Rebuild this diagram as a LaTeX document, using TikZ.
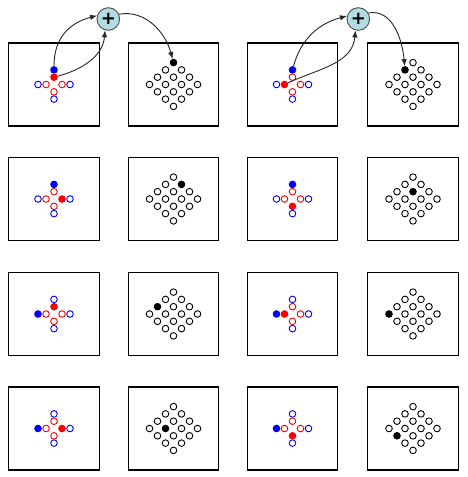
\documentclass[tikz,border=0pt]{standalone}
\usepackage{fontspec}
\newfontfamily\plusfont{DejaVu Sans}
\usetikzlibrary{arrows.meta}
\definecolor{plusblue}{RGB}{176,220,226}
\begin{document}
\begin{tikzpicture}[x=1pt,y=-1pt,
  panel/.style={draw, line width=1.05pt, minimum width=90.5pt, minimum height=83pt, inner sep=0pt},
  dot/.style={circle, line width=0.9pt, minimum size=6.6pt, inner sep=0pt},
  bdot/.style={dot, draw=blue},
  rdot/.style={dot, draw=red},
  kdot/.style={dot, draw=black},
  xbt/.style={}, xbb/.style={}, xbl/.style={}, xbr/.style={},
  xrt/.style={}, xrb/.style={}, xrl/.style={}, xrr/.style={},
  xk00/.style={}, xk01/.style={}, xk02/.style={}, xk03/.style={},
  xk10/.style={}, xk11/.style={}, xk12/.style={}, xk13/.style={},
  xk20/.style={}, xk21/.style={}, xk22/.style={}, xk23/.style={},
  xk30/.style={}, xk31/.style={}, xk32/.style={}, xk33/.style={},
  plusc/.style={circle, draw=black!70, fill=plusblue, line width=0.9pt, minimum size=22.6pt, inner sep=0pt, font=\plusfont\bfseries\fontsize{18}{18}\selectfont},
  arr/.style={draw=black!85, line width=0.9pt, -{Latex[length=7pt,width=5.5pt]}}
]
\useasboundingbox (0,0) rectangle (468,477);
\foreach \n/\xa/\xb/\yc/\bs/\rs/\ks in {
  p1/54/173.5/84.5/t/t/00, p2/292.5/413/84.5/t/l/01,
  p3/54/173.5/199/t/r/10, p4/292.5/413/199/t/b/11,
  p5/54/173.5/314/l/t/02, p6/292.5/413/314/l/l/03,
  p7/54/173.5/428.5/l/r/12, p8/292.5/413/428.5/l/b/13}
{
 \begin{scope}[xb\bs/.style={fill=blue}, xr\rs/.style={fill=red}, xk\ks/.style={fill=black}]
  \node[panel] (\n-A) at (\xa,\yc) {};
  \node[panel] (\n-B) at (\xb,\yc) {};
  \foreach \p/\dx/\dy in {t/0/-1, b/0/1, l/-1/0, r/1/0} {
    \node[bdot, xb\p] (\n-b\p) at ({\xa+16*\dx},{\yc+14.6*\dy}) {};
    \node[rdot, xr\p] (\n-r\p) at ({\xa+8*\dx},{\yc+7.3*\dy}) {};
  }
  \foreach \i in {0,...,3} {
    \foreach \j in {0,...,3} {
      \node[kdot, xk\i\j] (\n-k\i\j) at ({\xb+(\i-\j)*8},{\yc+(\i+\j-3)*7.3}) {};
    }
  }
 \end{scope}
}
\node[plusc] (s1) at (108.3,19) {+};
\node[plusc] (s2) at (358.3,19) {+};
\draw[arr] (p1-bt) to[out=90,in=195,looseness=1.1] (s1.163);
\draw[arr] (p1-rt) to[out=15,in=-95] (s1.254);
\draw[arr] (s1.24) to[out=10,in=105] (p1-k00);
\draw[arr] (p2-bt) to[out=75,in=195] (s2.165);
\draw[arr] (p2-rl) to[out=25,in=-95] (s2.256);
\draw[arr] (s2.31) to[out=10,in=95] (p2-k01);
\end{tikzpicture}
\end{document}
